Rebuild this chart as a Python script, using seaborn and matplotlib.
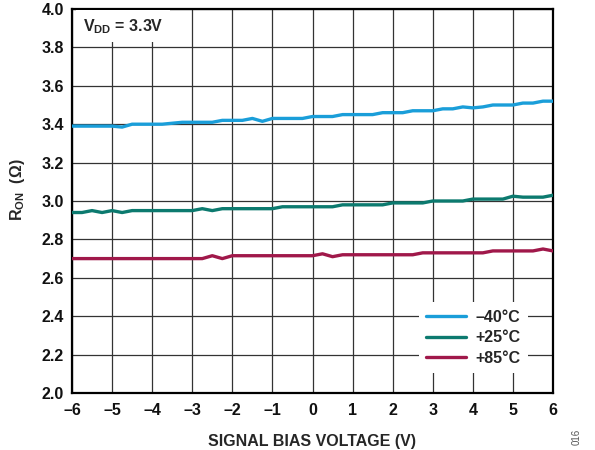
import numpy as np
import pandas as pd
import matplotlib
matplotlib.use("Agg")
import matplotlib.pyplot as plt
import seaborn as sns
from matplotlib.lines import Line2D

# ---- data ----
bias_v = [-6.0, -5.75, -5.5, -5.25, -5.0, -4.75, -4.5, -4.25, -4.0, -3.75,
          -3.5, -3.25, -3.0, -2.75, -2.5, -2.25, -2.0, -1.75, -1.5, -1.25,
          -1.0, -0.75, -0.5, -0.25, 0.0, 0.25, 0.5, 0.75, 1.0, 1.25,
          1.5, 1.75, 2.0, 2.25, 2.5, 2.75, 3.0, 3.25, 3.5, 3.75,
          4.0, 4.25, 4.5, 4.75, 5.0, 5.25, 5.5, 5.75, 6.0]

ron_m40 = [3.39, 3.39, 3.39, 3.39, 3.39, 3.385, 3.40, 3.40, 3.40, 3.40,
           3.405, 3.41, 3.41, 3.41, 3.41, 3.42, 3.42, 3.42, 3.43, 3.415,
           3.43, 3.43, 3.43, 3.43, 3.44, 3.44, 3.44, 3.45, 3.45, 3.45,
           3.45, 3.46, 3.46, 3.46, 3.47, 3.47, 3.47, 3.48, 3.48, 3.49,
           3.485, 3.49, 3.50, 3.50, 3.50, 3.51, 3.51, 3.52, 3.52]

ron_p25 = [2.94, 2.94, 2.95, 2.94, 2.95, 2.94, 2.95, 2.95, 2.95, 2.95,
           2.95, 2.95, 2.95, 2.96, 2.95, 2.96, 2.96, 2.96, 2.96, 2.96,
           2.96, 2.97, 2.97, 2.97, 2.97, 2.97, 2.97, 2.98, 2.98, 2.98,
           2.98, 2.98, 2.99, 2.99, 2.99, 2.99, 3.00, 3.00, 3.00, 3.00,
           3.01, 3.01, 3.01, 3.01, 3.025, 3.02, 3.02, 3.02, 3.03]

ron_p85 = [2.70, 2.70, 2.70, 2.70, 2.70, 2.70, 2.70, 2.70, 2.70, 2.70,
           2.70, 2.70, 2.70, 2.70, 2.715, 2.70, 2.715, 2.715, 2.715, 2.715,
           2.715, 2.715, 2.715, 2.715, 2.715, 2.725, 2.71, 2.72, 2.72, 2.72,
           2.72, 2.72, 2.72, 2.72, 2.72, 2.73, 2.73, 2.73, 2.73, 2.73,
           2.73, 2.73, 2.74, 2.74, 2.74, 2.74, 2.74, 2.75, 2.74]

series_labels = ["\u201340\u00b0C", "+25\u00b0C", "+85\u00b0C"]
series_colors = ["#1a9ed9", "#0c7a6f", "#a0184a"]

x_ticks = [-6, -5, -4, -3, -2, -1, 0, 1, 2, 3, 4, 5, 6]
x_ticklabels = ["\u20136", "\u20135", "\u20134", "\u20133", "\u20132", "\u20131",
                "0", "1", "2", "3", "4", "5", "6"]
y_ticks = [2.0, 2.2, 2.4, 2.6, 2.8, 3.0, 3.2, 3.4, 3.6, 3.8, 4.0]
y_ticklabels = ["2.0", "2.2", "2.4", "2.6", "2.8", "3.0", "3.2", "3.4", "3.6", "3.8", "4.0"]

df = pd.DataFrame({
    "V": bias_v * 3,
    "RON": ron_m40 + ron_p25 + ron_p85,
    "Temp": [series_labels[0]] * len(bias_v) + [series_labels[1]] * len(bias_v)
            + [series_labels[2]] * len(bias_v),
})

# ---- style ----
sns.set_theme(style="white")
plt.rcParams["font.family"] = ["Liberation Sans", "DejaVu Sans"]
plt.rcParams["mathtext.fontset"] = "custom"
plt.rcParams["mathtext.rm"] = "Liberation Sans"
plt.rcParams["mathtext.bf"] = "Liberation Sans:bold"
plt.rcParams["mathtext.it"] = "Liberation Sans:italic"

FS = 11.5

fig = plt.figure(figsize=(5.95, 4.5), dpi=100)
ax = fig.add_axes([72 / 595, 1 - 393 / 450, (553 - 72) / 595, (393 - 9) / 450])

sns.lineplot(data=df, x="V", y="RON", hue="Temp", palette=series_colors,
             hue_order=series_labels, linewidth=2.4, ax=ax, legend=False, zorder=3)

ax.set_xlim(-6, 6)
ax.set_ylim(2.0, 4.0)
ax.set_xticks(x_ticks)
ax.set_xticklabels(x_ticklabels, fontsize=FS, fontweight="bold")
ax.set_yticks(y_ticks)
ax.set_yticklabels(y_ticklabels, fontsize=FS, fontweight="bold")
ax.tick_params(axis="both", length=0, colors="#222222", labelcolor="#111111")
ax.tick_params(axis="x", pad=7)
ax.tick_params(axis="y", pad=6)

ax.grid(True, color="#333333", linewidth=0.9)
ax.set_axisbelow(True)
for s in ax.spines.values():
    s.set_visible(True)
    s.set_color("black")
    s.set_linewidth(1.6)

ax.set_xlabel("SIGNAL BIAS VOLTAGE (V)", fontsize=FS, fontweight="bold", labelpad=12)
ax.set_ylabel("$\\mathbf{R_{ON}}$  (\u03a9)", fontsize=FS, fontweight="bold", labelpad=10)
ax.yaxis.set_label_coords(-0.094, 0.53)

ax.text(0.022, 0.955, r"$\mathbf{V_{DD}}$ = 3.3V", transform=ax.transAxes,
        fontsize=FS, fontweight="bold", ha="left", va="center", zorder=5,
        bbox=dict(facecolor="white", edgecolor="none", pad=5))

handles = [Line2D([0], [0], color=c, linewidth=2.4) for c in series_colors]
leg = ax.legend(handles, series_labels, loc="lower right",
                bbox_to_anchor=(0.948, 0.052), borderaxespad=0, frameon=True,
                fancybox=False, framealpha=1, edgecolor="white", handlelength=2.5,
                handletextpad=0.6, labelspacing=0.35, borderpad=0.45,
                prop=dict(weight="bold", size=FS))
leg.get_frame().set_linewidth(0)
leg.set_zorder(6)

fig.text(577 / 595, 1 - 437 / 450, "016", rotation=90, fontsize=7,
         color="#555555", ha="center", va="center")

fig.savefig("out.png", dpi=100)
